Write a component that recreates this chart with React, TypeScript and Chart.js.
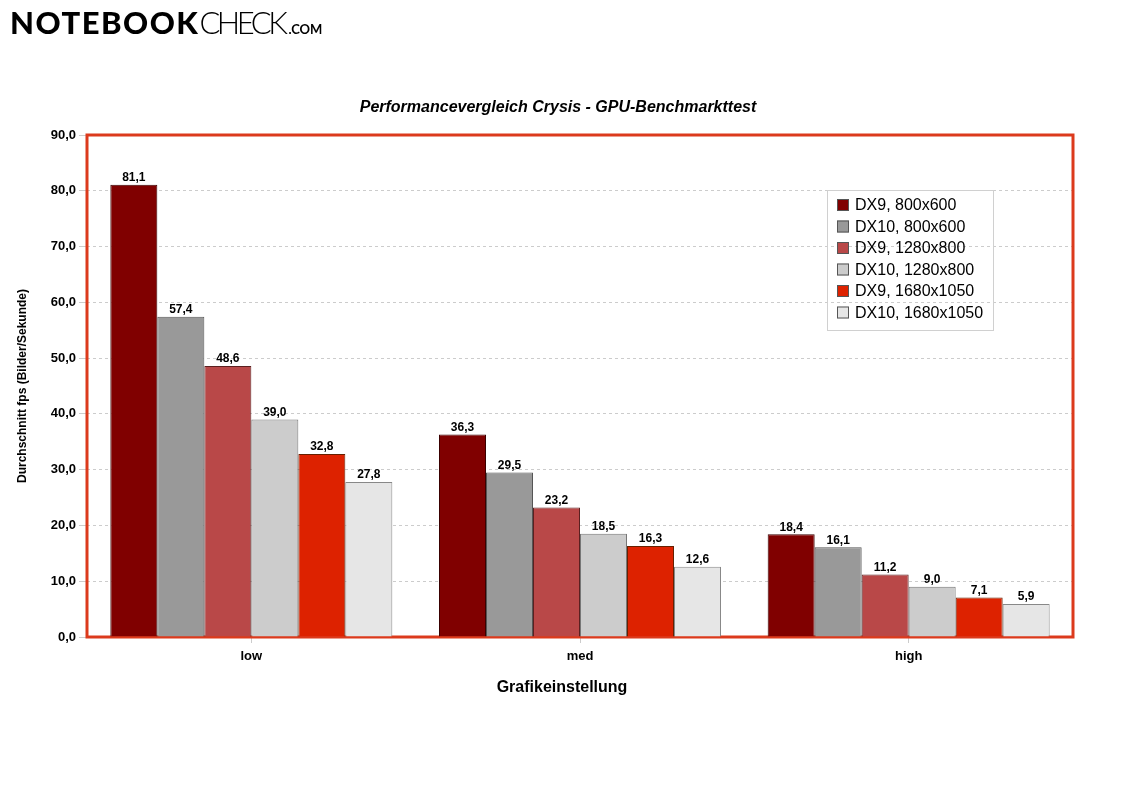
import React, { useEffect, useRef } from "react";
import { Chart, registerables } from "chart.js";

Chart.register(...registerables);

const categories = ["low", "med", "high"];
const seriesNames = [
  "DX9, 800x600",
  "DX10, 800x600",
  "DX9, 1280x800",
  "DX10, 1280x800",
  "DX9, 1680x1050",
  "DX10, 1680x1050",
];
const dx9_800 = [81.1, 36.3, 18.4];
const dx10_800 = [57.4, 29.5, 16.1];
const dx9_1280 = [48.6, 23.2, 11.2];
const dx10_1280 = [39.0, 18.5, 9.0];
const dx9_1680 = [32.8, 16.3, 7.1];
const dx10_1680 = [27.8, 12.6, 5.9];
const seriesValues = [dx9_800, dx10_800, dx9_1280, dx10_1280, dx9_1680, dx10_1680];
const seriesColors = ["#800000", "#999999", "#b94848", "#cccccc", "#dd2200", "#e6e6e6"];
const seriesBorders = ["#3a0000", "#555555", "#5a2020", "#777777", "#662000", "#888888"];

const chartTitle = "Performancevergleich Crysis - GPU-Benchmarkttest";
const yTitle = "Durchschnitt fps (Bilder/Sekunde)";
const xTitle = "Grafikeinstellung";
const yMin = 0;
const yMax = 90;
const yStep = 10;

const FONT = "'Liberation Sans', Arial, sans-serif";
const fmt = (v: number) => v.toFixed(1).replace(".", ",");

const framePlugin = {
  id: "frame",
  beforeDatasetsDraw(chart: any) {
    const { ctx, chartArea } = chart;
    ctx.save();
    ctx.strokeStyle = "#dc3a1c";
    ctx.lineWidth = 3;
    ctx.strokeRect(chartArea.left, chartArea.top, chartArea.right - chartArea.left, chartArea.bottom - chartArea.top);
    ctx.restore();
  },
};

const valueLabelPlugin = {
  id: "valueLabels",
  afterDatasetsDraw(chart: any) {
    const { ctx } = chart;
    ctx.save();
    ctx.font = `bold 12px ${FONT}`;
    ctx.fillStyle = "#000";
    ctx.textAlign = "center";
    ctx.textBaseline = "bottom";
    chart.data.datasets.forEach((ds: any, i: number) => {
      const meta = chart.getDatasetMeta(i);
      meta.data.forEach((bar: any, j: number) => {
        ctx.fillText(fmt(ds.data[j]), bar.x, bar.y - 1);
      });
    });
    ctx.restore();
  },
};

const titlesPlugin = {
  id: "titles",
  afterDraw(chart: any) {
    const { ctx } = chart;
    ctx.save();
    ctx.fillStyle = "#000";
    ctx.textAlign = "center";
    ctx.textBaseline = "alphabetic";
    ctx.font = `italic bold 16px ${FONT}`;
    ctx.fillText(chartTitle, 558, 112);
    ctx.font = `bold 16px ${FONT}`;
    ctx.fillText(xTitle, 562, 692);
    ctx.restore();
  },
};

const boxLegendPlugin = {
  id: "boxLegend",
  afterDraw(chart: any) {
    const { ctx } = chart;
    const x = 827, y = 190, w = 166, h = 140;
    ctx.save();
    ctx.strokeStyle = "#d0d0d0";
    ctx.lineWidth = 1;
    ctx.strokeRect(x + 0.5, y + 0.5, w, h);
    ctx.font = `16px ${FONT}`;
    ctx.textBaseline = "middle";
    ctx.textAlign = "left";
    chart.data.datasets.forEach((ds: any, i: number) => {
      const cy = y + 15 + i * 21.5;
      ctx.fillStyle = ds.backgroundColor;
      ctx.fillRect(x + 10, cy - 6, 12, 12);
      ctx.strokeStyle = "#555";
      ctx.strokeRect(x + 10.5, cy - 5.5, 11, 11);
      ctx.fillStyle = "#000";
      ctx.fillText(ds.label, x + 28, cy + 1);
    });
    ctx.restore();
  },
};

export default function App() {
  const ref = useRef<HTMLCanvasElement>(null);
  useEffect(() => {
    document.body.style.margin = "0";
    const chart = new Chart(ref.current!, {
      type: "bar",
      data: {
        labels: categories,
        datasets: seriesNames.map((name, i) => ({
          label: name,
          data: seriesValues[i],
          backgroundColor: seriesColors[i],
          borderColor: seriesBorders[i],
          borderWidth: 1,
          barPercentage: 1,
          categoryPercentage: 0.858,
        })),
      },
      options: {
        animation: false,
        responsive: false,
        devicePixelRatio: 1,
        layout: { padding: { top: 135, right: 59, bottom: 103, left: 0 } },
        plugins: {
          legend: { display: false },
          tooltip: { enabled: false },
          title: { display: false },
        },
        scales: {
          x: {
            grid: {
              offset: false,
              drawOnChartArea: false,
              color: "#cccccc",
              tickLength: 6,
            },
            border: { display: false },
            ticks: {
              color: "#000",
              font: { family: FONT, size: 13, weight: "bold" },
              padding: 6,
            },
            afterFit(scale: any) {
              scale.height = 60;
            },
          },
          y: {
            min: yMin,
            max: yMax,
            grid: { color: "#cccccc", tickLength: 8 },
            border: { display: false, dash: [3, 3] },
            ticks: {
              stepSize: yStep,
              color: "#000",
              font: { family: FONT, size: 13, weight: "bold" },
              padding: 3,
              callback: (v: any) => fmt(Number(v)),
            },
            title: {
              display: true,
              text: yTitle,
              color: "#000",
              font: { family: FONT, size: 12, weight: "bold" },
              padding: { top: 15, bottom: 0 },
            },
            afterFit(scale: any) {
              scale.width = 87;
            },
          },
        },
      },
      plugins: [framePlugin, valueLabelPlugin, titlesPlugin, boxLegendPlugin],
    });
    return () => chart.destroy();
  }, []);

  return (
    <div style={{ position: "relative", width: 1132, height: 800, background: "#fff" }}>
      <canvas ref={ref} width={1132} height={800} style={{ display: "block" }} />
      <div
        style={{
          position: "absolute",
          left: 10,
          top: 2,
          fontFamily: "Lato, 'Liberation Sans', Arial, sans-serif",
          fontSize: 31,
          lineHeight: "40px",
          color: "#000",
          whiteSpace: "nowrap",
        }}
      >
        <span style={{ fontWeight: 900, letterSpacing: "1.5px" }}>NOTEBOOK</span>
        <span style={{ fontWeight: 300, letterSpacing: "-3.5px" }}>CHECK</span>
        <span style={{ fontWeight: 700, fontSize: 13, marginLeft: 4 }}>.COM</span>
      </div>
    </div>
  );
}
